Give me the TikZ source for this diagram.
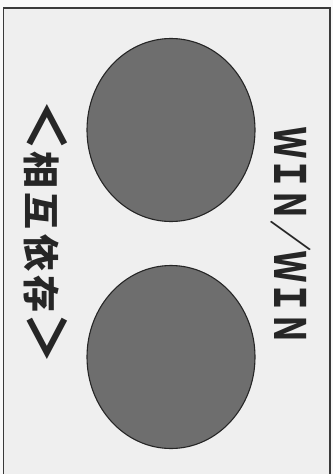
\documentclass[tikz,border=0pt]{standalone}
\usepackage{fontspec}
\usepackage{tikz}
\usetikzlibrary{shapes.geometric,positioning}
\newfontfamily\jpfont{Noto Sans CJK JP}
\definecolor{paper}{HTML}{F9F9F9}
\definecolor{panel}{HTML}{EFEFEF}
\definecolor{frame}{HTML}{3A3A3A}
\definecolor{disc}{HTML}{6E6E6E}
\definecolor{ink}{HTML}{262626}
\newcommand{\bigmark}[1]{{\fontsize{52}{52}\selectfont #1}}

\begin{document}
\begin{tikzpicture}[x=1pt,y=-1pt,
  party/.style={ellipse,draw=ink,line width=1.1pt,fill=disc,inner sep=0pt,
    minimum width=168pt,minimum height=183pt},
  sidelabel/.style={rotate=-90,text=ink,inner sep=0pt,
    font=\jpfont\bfseries\fontsize{37}{37}\selectfont}]
\useasboundingbox (0,0) rectangle (333,474);
% page and panel
\fill[paper] (0,0) rectangle (333,474);
\fill[panel] (3.5,8) rectangle (330,474);
\draw[frame,line width=1.6pt] (3.5,474)--(3.5,8)--(330,8)--(330,474);
% the two parties
\node[party] (upper) at (171,130){};
\node[party] (lower) at (171,357){};
% labels
\node[sidelabel] (mutual) at (46,232){\bigmark{＜}\addfontfeature{LetterSpace=12}相互依存\bigmark{＞}};
\node[sidelabel,xscale=.72,font=\jpfont\bfseries\fontsize{43}{43}\selectfont] (winwin) at (291,236){ＷＩＮ／ＷＩＮ};
\end{tikzpicture}
\end{document}
